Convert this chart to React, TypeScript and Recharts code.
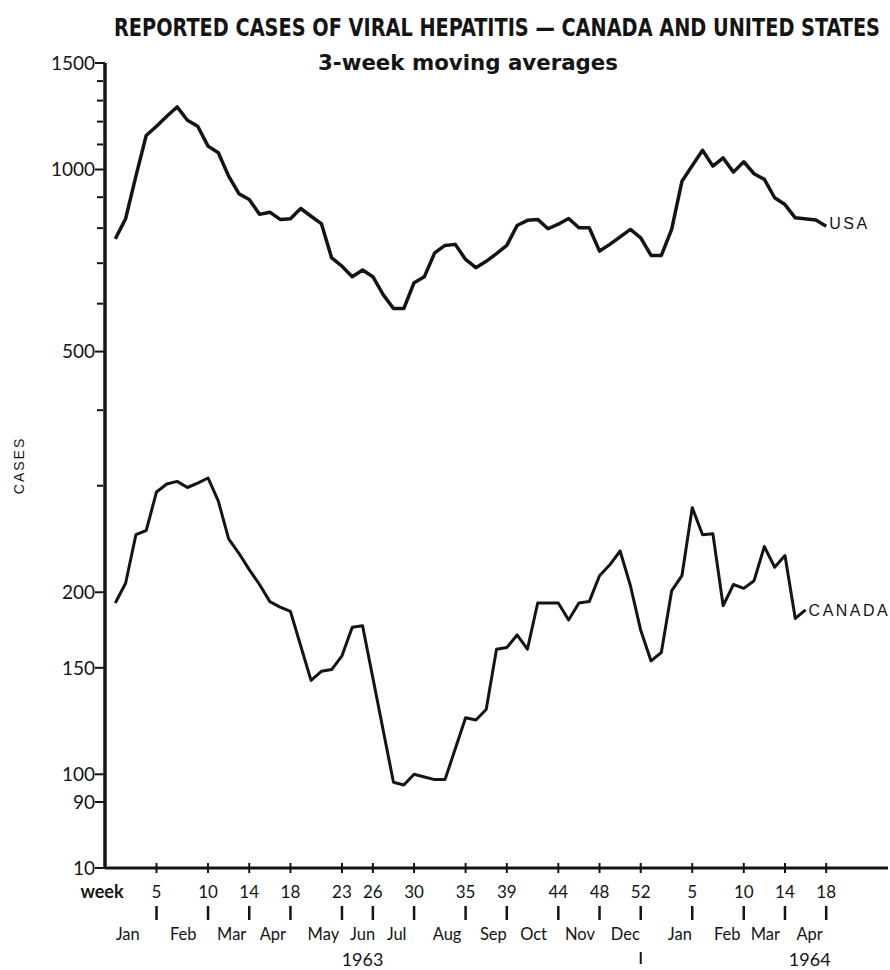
import React from 'react';
import { LineChart, Line, XAxis, YAxis } from 'recharts';

// week index: 1963 week 1 = 1, 1964 week 1 = 53
const usaWeeks = [
  1, 2, 3, 4, 5, 6, 7, 8, 9, 10, 11, 12, 13, 14, 15, 16, 17, 18, 19, 20,
  21, 22, 23, 24, 25, 26, 27, 28, 29, 30, 31, 32, 33, 34, 35, 36, 37, 38, 39, 40,
  41, 42, 43, 44, 45, 46, 47, 48, 49, 51, 52, 53, 54, 55, 56, 57, 58, 59, 60,
  61, 62, 63, 64, 65, 66, 67, 69, 70,
];
const usaCases = [
  768, 829, 975, 1138, 1179, 1225, 1269, 1206, 1179, 1093, 1066, 975, 912, 892, 843, 850, 827, 829, 862, 837,
  814, 714, 692, 665, 682, 665, 621, 589, 589, 650, 665, 728, 749, 752, 710, 688, 705, 726, 749, 808,
  824, 827, 798, 812, 830, 801, 801, 733, 752, 796, 771, 721, 721, 796, 956, 1015, 1076, 1013, 1045,
  990, 1030, 984, 963, 898, 875, 832, 825, 806,
];

const canadaWeeks = [
  1, 2, 3, 4, 5, 6, 7, 8, 9, 10, 11, 12, 13, 14, 15, 16, 17, 18, 19, 20,
  21, 22, 23, 24, 25, 28, 29, 30, 31, 32, 33, 35, 36, 37, 38, 39, 40,
  41, 42, 44, 45, 46, 47, 48, 49, 50, 51, 52, 53, 54, 55, 56, 57, 58, 59, 60,
  61, 62, 63, 64, 65, 66, 67, 68,
];
const canadaCases = [
  192, 207, 249, 253, 293, 302, 305, 298, 303, 309, 283, 245, 232, 218, 206, 193, 189, 186, 163, 143,
  148, 149, 157, 175, 176, 97, 96, 100, 99, 98, 98, 124, 123, 128, 161, 162, 170,
  161, 192, 192, 180, 192, 193, 213, 222, 234, 205, 173, 154, 159, 201, 213, 276, 249, 250, 190,
  206, 203, 209, 238, 220, 230, 181, 187,
];

const weekTicks = [5, 10, 14, 18, 23, 26, 30, 35, 39, 44, 48, 52, 57, 62, 66, 70];
const weekTickLabels = ['5', '10', '14', '18', '23', '26', '30', '35', '39', '44', '48', '52', '5', '10', '14', '18'];
const yearEndWeek = 52;

const monthTicks = [2.2, 7.6, 12.3, 16.3, 21.2, 25, 28.3, 33.2, 37.7, 41.6, 46.1, 50.5, 55.8, 60.4, 64.1, 68.4];
const monthLabels = ['Jan', 'Feb', 'Mar', 'Apr', 'May', 'Jun', 'Jul', 'Aug', 'Sep', 'Oct', 'Nov', 'Dec', 'Jan', 'Feb', 'Mar', 'Apr'];
const yearMonthIndex = [5, 15];
const yearLabels = ['1963', '1964'];

// axis is broken below 90; the bottom of the scale is marked "10"
const axisFloor = 70;
const caseTicks = [axisFloor, 90, 100, 150, 200, 300, 400, 500, 600, 700, 800, 900, 1000, 1100, 1200, 1300, 1400, 1500];
const labelledTicks = [axisFloor, 90, 100, 150, 200, 500, 1000, 1500];
const labelledTickText = ['10', '90', '100', '150', '200', '500', '1000', '1500'];

const usaData = usaWeeks.map((week, i) => ({ week, cases: usaCases[i] }));
const canadaData = canadaWeeks.map((week, i) => ({ week, cases: canadaCases[i] }));
const xTicks = [...weekTicks, ...monthTicks].sort((a, b) => a - b);

const INK = '#141414';
const NUM_FONT = 'Lato, "DejaVu Sans", sans-serif';
const LABEL_FONT = '"Liberation Sans", Arial, sans-serif';
const TITLE_FONT = '"DejaVu Sans Condensed", "DejaVu Sans", sans-serif';

const YTick = (props: any) => {
  const { x, y, payload } = props;
  const idx = labelledTicks.indexOf(payload.value);
  if (idx < 0) {
    return <line x1={x - 8} x2={x - 2} y1={y} y2={y} stroke={INK} strokeWidth={2} />;
  }
  return (
    <g>
      <line x1={x - 10} x2={x} y1={y} y2={y} stroke={INK} strokeWidth={2} />
      <text x={x - 10} y={y} dy="0.36em" textAnchor="end" fontFamily={NUM_FONT} fontSize={19} fill={INK}>
        {labelledTickText[idx]}
      </text>
    </g>
  );
};

// one axis carries both rows: week numbers on the ticks, month names between them
const WeekMonthTick = (props: any) => {
  const { x, y, payload } = props;
  const wi = weekTicks.indexOf(payload.value);
  if (wi >= 0) {
    return (
      <g>
        <line x1={x} x2={x} y1={y - 5} y2={y + 5} stroke={INK} strokeWidth={2} />
        <text x={x} y={y + 30} textAnchor="middle" fontFamily={NUM_FONT} fontSize={17} fill={INK}>
          {weekTickLabels[wi]}
        </text>
        <line x1={x} x2={x} y1={y + 38} y2={y + 52} stroke={INK} strokeWidth={2.5} />
        {payload.value === yearEndWeek && (
          <line x1={x} x2={x} y1={y + 84} y2={y + 96} stroke={INK} strokeWidth={2} />
        )}
      </g>
    );
  }
  const mi = monthTicks.indexOf(payload.value);
  const yi = yearMonthIndex.indexOf(mi);
  return (
    <g>
      <text x={x} y={y + 72} textAnchor="middle" fontFamily={NUM_FONT} fontSize={16.5} fill={INK}>
        {monthLabels[mi]}
      </text>
      {yi >= 0 && (
        <text x={x} y={y + 98} textAnchor="middle" fontFamily={NUM_FONT} fontSize={18} fill={INK}>
          {yearLabels[yi]}
        </text>
      )}
    </g>
  );
};

const endLabel = (name: string, lastIndex: number, dx: number, dy: number) => (props: any) => {
  if (props.index !== lastIndex) return <g />;
  return (
    <text
      x={props.x + dx}
      y={props.y + dy}
      dy="0.36em"
      fontFamily={LABEL_FONT}
      fontSize={16}
      letterSpacing={2.5}
      fill={INK}
    >
      {name}
    </text>
  );
};

export default function App() {
  return (
    <div style={{ position: 'absolute', left: 0, top: 0, width: 890, height: 970, background: '#fff' }}>
      <LineChart width={890} height={970} margin={{ top: 63, right: 2, bottom: 2, left: 5 }}>
        <XAxis
          type="number"
          dataKey="week"
          domain={[0, 76]}
          allowDataOverflow
          ticks={xTicks}
          interval={0}
          tickSize={0}
          tickMargin={0}
          tick={WeekMonthTick}
          axisLine={{ stroke: INK, strokeWidth: 3 }}
          tickLine={false}
          height={100}
        />
        <YAxis
          type="number"
          scale="log"
          domain={[axisFloor, 1500]}
          allowDataOverflow
          ticks={caseTicks}
          interval={0}
          tickSize={0}
          tickMargin={0}
          tick={YTick}
          width={100}
          axisLine={{ stroke: INK, strokeWidth: 3.5 }}
          tickLine={false}
          label={{
            value: 'CASES',
            content: (p: any) => (
              <text
                x={p.viewBox.x + 14}
                y={p.viewBox.y + p.viewBox.height / 2}
                transform={`rotate(-90 ${p.viewBox.x + 14} ${p.viewBox.y + p.viewBox.height / 2})`}
                textAnchor="middle"
                dy="0.36em"
                fontFamily={LABEL_FONT}
                fontSize={14}
                letterSpacing={2}
                fill={INK}
              >
                CASES
              </text>
            ),
          }}
        />
        <Line
          data={usaData}
          dataKey="cases"
          type="linear"
          stroke={INK}
          strokeWidth={3.5}
          strokeLinejoin="round"
          dot={false}
          isAnimationActive={false}
          label={endLabel('USA', usaData.length - 1, 3, -3)}
        />
        <Line
          data={canadaData}
          dataKey="cases"
          type="linear"
          stroke={INK}
          strokeWidth={3}
          strokeLinejoin="round"
          dot={false}
          isAnimationActive={false}
          label={endLabel('CANADA', canadaData.length - 1, 3, 0)}
        />
      </LineChart>
      <svg width={890} height={970} style={{ position: 'absolute', left: 0, top: 0, pointerEvents: 'none' }}>
        <text
          x={497}
          y={0}
          transform="translate(0 36) scale(1 1.22)"
          textAnchor="middle"
          textLength={766}
          lengthAdjust="spacingAndGlyphs"
          fontFamily={TITLE_FONT}
          fontWeight="bold"
          fontSize={20}
          fill={INK}
        >
          REPORTED CASES OF VIRAL HEPATITIS — CANADA AND UNITED STATES
        </text>
        <text
          x={468}
          y={70}
          textAnchor="middle"
          textLength={300}
          lengthAdjust="spacingAndGlyphs"
          fontFamily={TITLE_FONT}
          fontWeight="bold"
          fontSize={22}
          fill={INK}
        >
          3-week moving averages
        </text>
        <text x={102} y={898} textAnchor="middle" fontFamily={NUM_FONT} fontWeight="bold" fontSize={18} fill={INK}>
          week
        </text>
      </svg>
    </div>
  );
}
